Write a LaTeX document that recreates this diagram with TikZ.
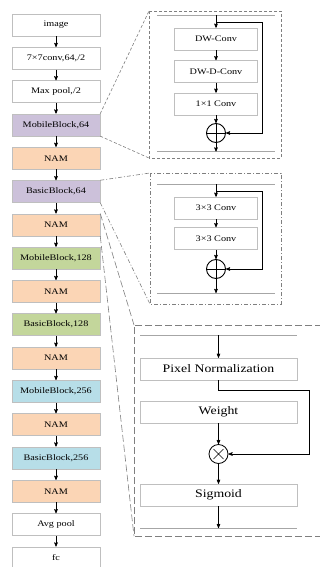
\documentclass[tikz,border=0pt]{standalone}
\usepackage{fontspec}
\setmainfont{Liberation Serif}[FakeStretch=1.2]
\usepackage{tikz}
\usetikzlibrary{arrows}
\usetikzlibrary{shapes, positioning, calc}
\definecolor{lav}{HTML}{CCC1DA}
\definecolor{peach}{HTML}{FBD5B5}
\definecolor{grn}{HTML}{C3D69B}
\definecolor{blu}{HTML}{B7DEE8}
\definecolor{boxgray}{HTML}{BFBFBF}
\definecolor{framegray}{HTML}{7F7F7F}
\definecolor{linegray}{HTML}{A6A6A6}

\begin{document}
\begin{tikzpicture}[->,>=stealth',x=1pt,y=-1pt,node distance=33.3pt,line width=0.6pt,
  main node/.style={rectangle,draw=boxgray,line width=0.5pt,minimum width=88pt,minimum height=22pt,inner sep=0pt,font=\fontsize{8.5}{10}\selectfont},
  sub node/.style={main node,minimum width=83pt,font=\fontsize{8.5}{10}\selectfont},
  nam node/.style={main node,minimum width=157pt,font=\fontsize{11.5}{13}\selectfont},
  op node/.style={circle,draw=black,line width=0.9pt,minimum size=19pt,inner sep=0pt},
  dash frame/.style={-,draw=framegray,dash pattern=on 3pt off 2pt},
  dot frame/.style={-,draw=framegray,dash pattern=on 4pt off 2pt on 1pt off 2pt},
  long frame/.style={-,draw=framegray,dash pattern=on 7pt off 3pt},
  inner line/.style={-,draw=linegray,line width=0.8pt}]
  \useasboundingbox (0,0) rectangle (320,567);
  % backbone
  \node[main node] (1) at (56,25) {image};
  \node[main node, below of = 1] (2) {7×7conv,64,/2};
  \node[main node, below of = 2] (3) {Max pool,/2};
  \node[main node, fill=lav, below of = 3] (4) {MobileBlock,64};
  \node[main node, fill=peach, below of = 4] (5) {NAM};
  \node[main node, fill=lav, below of = 5] (6) {BasicBlock,64};
  \node[main node, fill=peach, below of = 6] (7) {NAM};
  \node[main node, fill=grn, below of = 7] (8) {MobileBlock,128};
  \node[main node, fill=peach, below of = 8] (9) {NAM};
  \node[main node, fill=grn, below of = 9] (10) {BasicBlock,128};
  \node[main node, fill=peach, below of = 10] (11) {NAM};
  \node[main node, fill=blu, below of = 11] (12) {MobileBlock,256};
  \node[main node, fill=peach, below of = 12] (13) {NAM};
  \node[main node, fill=blu, below of = 13] (14) {BasicBlock,256};
  \node[main node, fill=peach, below of = 14] (15) {NAM};
  \node[main node, below of = 15] (16) {Avg pool};
  \node[main node, below of = 16] (17) {fc};
  \foreach \i [count=\j from 2] in {1,...,16}
    \draw (\i) -- (\j);

  % MobileBlock detail
  \coordinate (f1a) at (149,11);
  \coordinate (f1b) at (149,158);
  \draw[dash frame] (f1a) rectangle (281,158);
  \draw[dash frame] (4.north east) -- (f1a) (4.south east) -- (f1b);
  \draw[inner line] (157,15) -- (275,15) (157,151.5) -- (275,151.5);
  \node[sub node] (m1) at (216,39) {DW-Conv};
  \node[sub node] (m2) at (216,71.5) {DW-D-Conv};
  \node[sub node] (m3) at (216,104) {1×1 Conv};
  \node[op node] (m4) at (216,133) {};
  \draw[-] (m4.north) -- (m4.south) (m4.west) -- (m4.east);
  \coordinate (t1) at (216,15);
  \coordinate (s1) at (216,22);
  \coordinate (b1) at (216,151.5);
  \draw (t1) -- (m1);
  \draw (m1) -- (m2);
  \draw (m2) -- (m3);
  \draw (m3) -- (m4);
  \draw (m4) -- (b1);
  \draw (s1) -- ++(46,0) |- (m4);

  % BasicBlock detail
  \coordinate (f2a) at (150,173);
  \coordinate (f2b) at (150,304);
  \draw[dot frame] (f2a) rectangle (281,304);
  \draw[dot frame] (6.north east) -- (f2a) (6.south east) -- (f2b);
  \draw[inner line] (157,184) -- (275,184) (157,293) -- (275,293);
  \node[sub node] (c1) at (216,208) {3×3 Conv};
  \node[sub node] (c2) at (216,238.5) {3×3 Conv};
  \node[op node] (c3) at (216,269) {};
  \draw[-] (c3.north) -- (c3.south) (c3.west) -- (c3.east);
  \coordinate (t2) at (216,184);
  \coordinate (s2) at (216,191);
  \coordinate (b2) at (216,293);
  \draw (t2) -- (c1);
  \draw (c1) -- (c2);
  \draw (c2) -- (c3);
  \draw (c3) -- (b2);
  \draw (s2) -- ++(46,0) |- (c3);

  % NAM detail
  \coordinate (f3a) at (134,325);
  \coordinate (f3b) at (134,536);
  \draw[long frame] (322,325) -- (f3a) -- (f3b) -- (322,536);
  \draw[long frame] (7.north east) -- (f3a) (7.south east) -- (f3b);
  \draw[inner line] (140,335) -- (297,335) (140,528) -- (297,528);
  \node[nam node] (n1) at (218.5,369) {Pixel Normalization};
  \node[nam node] (n2) at (218.5,412) {Weight};
  \node[op node, line width=0.8pt] (n3) at (218.5,454) {};
  \draw[-] (n3.center) +(-5,-5) -- +(5,5) +(-5,5) -- +(5,-5);
  \node[nam node] (n4) at (218.5,495) {Sigmoid};
  \coordinate (t3) at (218.5,335);
  \coordinate (b3) at (218.5,528);
  \draw (t3) -- (n1);
  \draw (n2) -- (n3);
  \draw (n3) -- (n4);
  \draw (n4) -- (b3);
  \draw (n1.south) |- ++(91,10) |- (n3);
\end{tikzpicture}
\end{document}
